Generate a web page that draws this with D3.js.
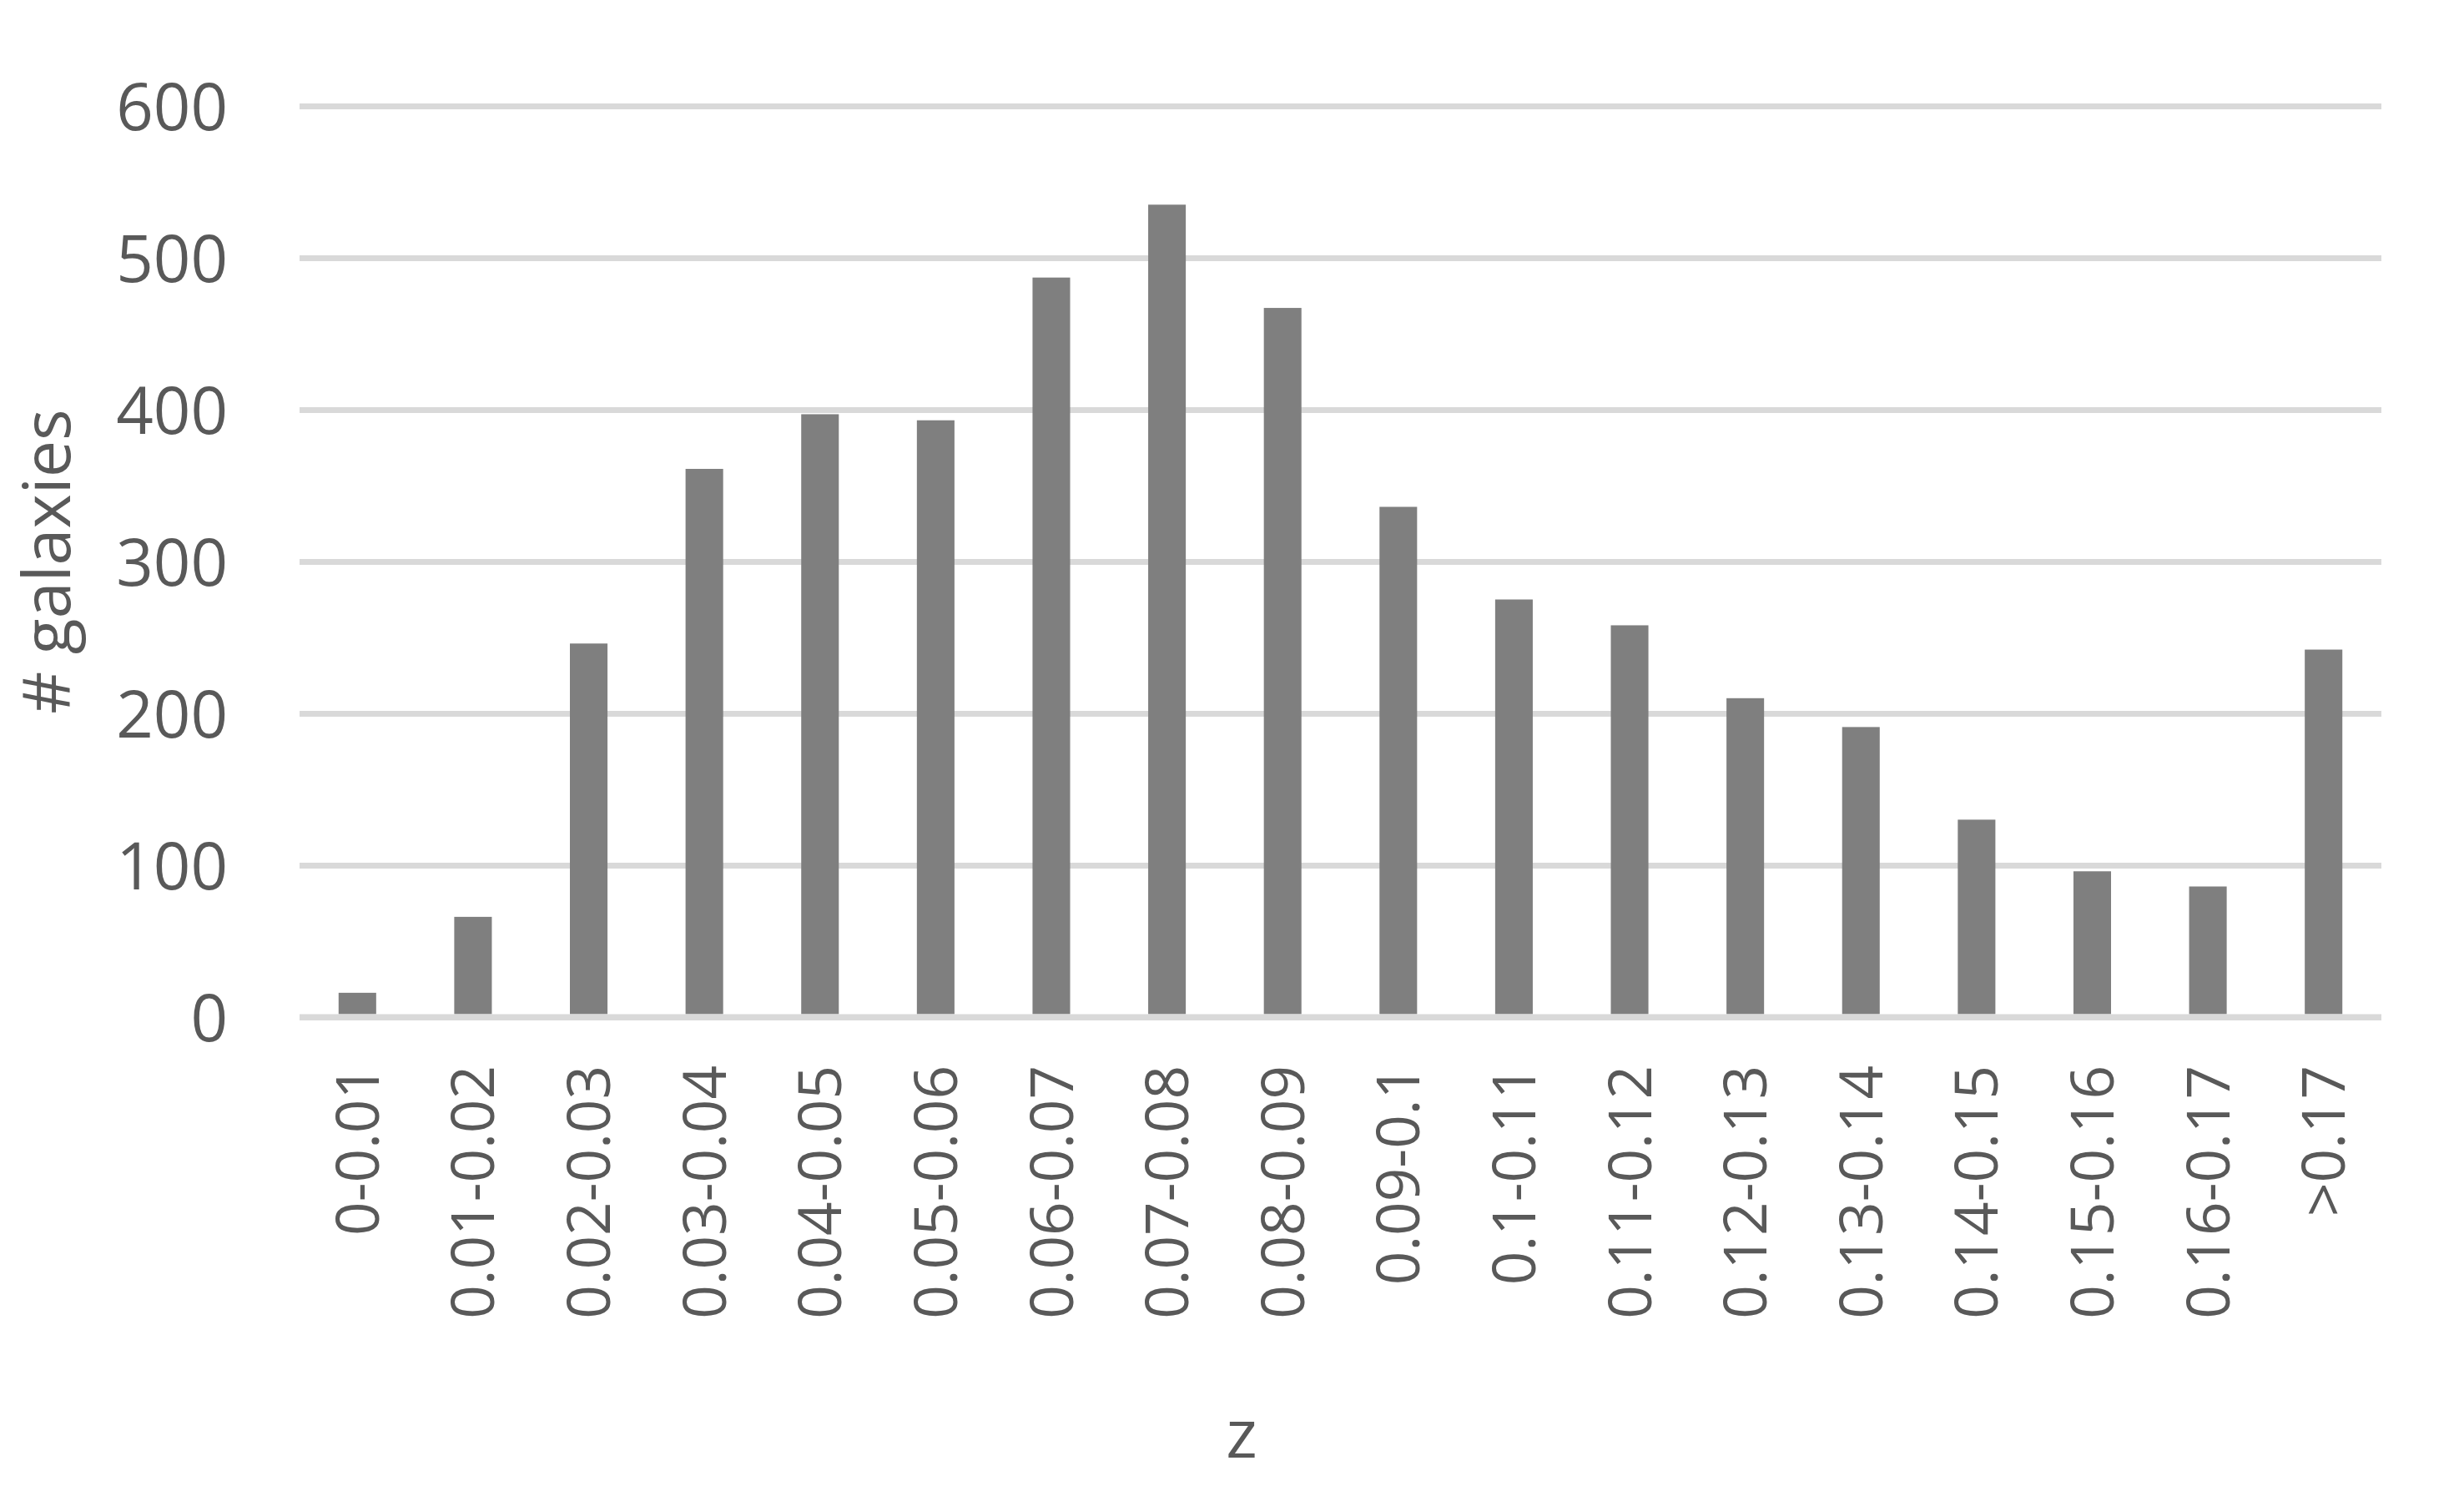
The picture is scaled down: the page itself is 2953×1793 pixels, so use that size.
<!DOCTYPE html>
<html>
<head>
<meta charset="utf-8">
<script src="https://cdn.jsdelivr.net/npm/d3@7"></script>
<style>
    html, body { margin: 0; padding: 0; background: #fff; }
    text { font-family: "Open Sans", sans-serif; fill: #595959; }
</style>
</head>
<body>
<script>
var WIDTH = 2953,
    HEIGHT = 1793;

var categories = ['0-0.01', '0.01-0.02', '0.02-0.03', '0.03-0.04', '0.04-0.05', '0.05-0.06',
    '0.06-0.07', '0.07-0.08', '0.08-0.09', '0.09-0.1', '0.1-0.11', '0.11-0.12',
    '0.12-0.13', '0.13-0.14', '0.14-0.15', '0.15-0.16', '0.16-0.17', '>0.17'];
var galaxies = [16, 66, 246, 361, 397, 393, 487, 535, 467, 336, 275, 258, 210, 191, 130, 96, 86, 242];
var yTicks = [0, 100, 200, 300, 400, 500, 600];

var PLOT = { left: 359, right: 2854, top: 127, bottom: 1219 };

var svg = d3.select('body').append('svg')
    .attr('width', WIDTH)
    .attr('height', HEIGHT);

var x = d3.scaleBand()
    .domain(categories)
    .range([PLOT.left, PLOT.right])
    .paddingInner(0.675)
    .paddingOuter(0.3375);

var y = d3.scaleLinear()
    .domain([0, 600])
    .range([PLOT.bottom, PLOT.top]);

// horizontal gridlines (the zero line is drawn later, over the bars)
var yAxis = d3.axisLeft(y)
    .tickValues(yTicks)
    .tickSize(-(PLOT.right - PLOT.left))
    .tickPadding(86)
    .tickFormat(d3.format('d'));

var gy = svg.append('g')
    .attr('transform', 'translate(' + PLOT.left + ',0)')
    .call(yAxis);

gy.select('.domain').remove();
gy.selectAll('.tick line')
    .attr('stroke', '#d9d9d9')
    .attr('stroke-width', 7);
gy.selectAll('.tick text')
    .attr('font-size', 78)
    .attr('dy', '0.36em');

// bars
svg.append('g')
    .selectAll('rect')
    .data(galaxies)
    .enter()
    .append('rect')
    .attr('x', (d, i) => x(categories[i]))
    .attr('y', d => y(d))
    .attr('width', x.bandwidth())
    .attr('height', d => y(0) - y(d) - 3.5)
    .attr('fill', '#7f7f7f');

// category axis
var xAxis = d3.axisBottom(x)
    .tickSize(0)
    .tickPadding(0);

var gx = svg.append('g')
    .attr('transform', 'translate(0,' + y(0) + ')')
    .call(xAxis);

gx.select('.domain')
    .attr('d', 'M' + PLOT.left + ',0H' + PLOT.right)
    .attr('stroke', '#d9d9d9')
    .attr('stroke-width', 7);

gx.selectAll('.tick text')
    .attr('font-size', 71)
    .attr('text-anchor', 'end')
    .attr('transform', 'translate(0,58) rotate(-90)')
    .attr('x', 0)
    .attr('y', 0)
    .attr('dy', '0.36em');

// axis titles
svg.append('text')
    .attr('transform', 'translate(84,' + (PLOT.top + PLOT.bottom) / 2 + ') rotate(-90)')
    .attr('text-anchor', 'middle')
    .attr('font-size', 79)
    .text('# galaxies');

svg.append('text')
    .attr('x', 1488)
    .attr('y', 1747)
    .attr('text-anchor', 'middle')
    .attr('font-size', 80)
    .text('z');
</script>
</body>
</html>
